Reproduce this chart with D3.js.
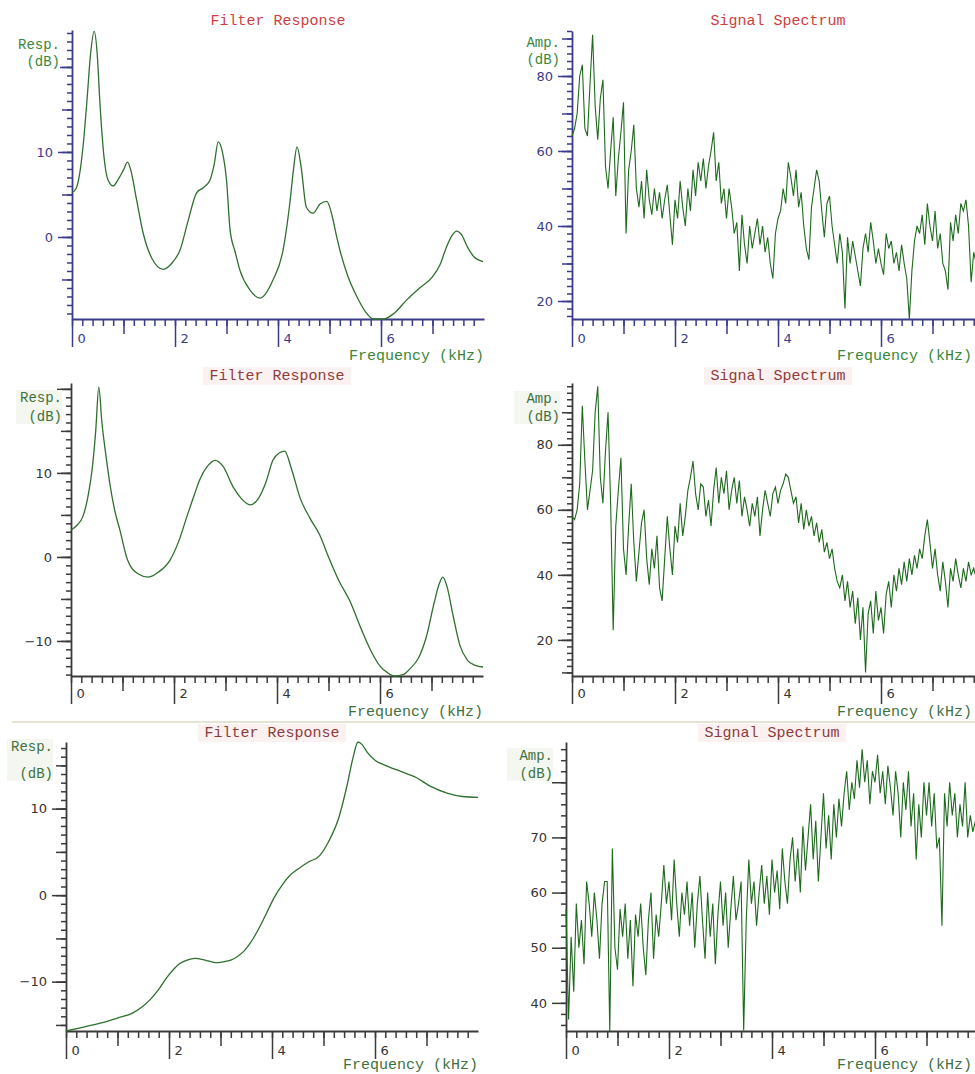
<!DOCTYPE html>
<html>
<head>
<meta charset="utf-8">
<style>
    body { margin: 0; background: #fff; overflow: hidden; }
    svg { display: block; }
    .mono { font-family: 'Liberation Mono', 'Courier New', monospace; }
    .tick text { font-family: 'DejaVu Sans', Verdana, sans-serif; font-size: 13px; }
</style>
</head>
<body>
<svg width="975" height="1074"></svg>

<script src="https://d3js.org/d3.v7.min.js"></script>
<script>
    // ---- data ----
    // filter responses (kHz, dB)
    const filt1Freq = [0, 0.08, 0.16, 0.22, 0.29, 0.36, 0.43, 0.49, 0.54, 0.62, 0.7, 0.8, 0.9, 1.0, 1.08, 1.14, 1.25, 1.38, 1.55, 1.77,
        1.95, 2.1, 2.25, 2.42, 2.55, 2.68, 2.76, 2.84, 2.92, 3.0, 3.07, 3.17, 3.26, 3.45, 3.65, 3.9, 4.1, 4.23, 4.3, 4.37,
        4.45, 4.55, 4.68, 4.82, 4.95, 5.05, 5.14, 5.2, 5.35, 5.53, 5.7, 5.85, 6.05, 6.25, 6.5, 6.75, 7.0, 7.15, 7.27, 7.38,
        7.47, 7.56, 7.68, 7.8, 7.98]
    const filt1Resp = [5.2, 5.7, 7.9, 11, 16, 21.5, 24.2, 21.5, 16, 9.5, 6.7, 6.0, 6.8, 7.9, 8.8, 7.9, 4.5, 0.5, -2.5, -3.8,
        -3.0, -1.5, 1.8, 5.2, 5.8, 6.7, 8.5, 11.2, 10.0, 6.7, 0.8, -1.8, -3.9, -6.2, -7.2, -5.1, -1.5, 4.0, 7.9, 10.6,
        8.2, 3.5, 2.8, 3.9, 4.2, 2.5, 0, -1.5, -4.5, -7, -8.8, -9.65, -9.65, -9.0, -7.4, -6.0, -4.7, -3.2, -1.2, 0.2,
        0.7, 0.3, -1.2, -2.3, -2.9]

    const filt2Freq = [0, 0.12, 0.23, 0.33, 0.41, 0.48, 0.54, 0.6, 0.68, 0.76, 0.85, 0.95, 1.1, 1.3, 1.5, 1.7, 1.92, 2.1, 2.25, 2.4,
        2.5, 2.65, 2.8, 2.95, 3.15, 3.3, 3.48, 3.62, 3.78, 3.92, 4.05, 4.15, 4.28, 4.45, 4.65, 4.83, 5.0, 5.2, 5.42, 5.65,
        5.85, 6.0, 6.15, 6.29, 6.45, 6.6, 6.75, 6.9, 7.05, 7.15, 7.22, 7.3, 7.42, 7.55, 7.7, 7.85, 8.0]
    const filt2Resp = [3.2, 3.8, 4.8, 7.2, 10.4, 15, 20.2, 16, 12, 8.5, 5.5, 3.2, -0.4, -2.0, -2.4, -1.8, -0.4, 2.0, 4.8, 7.5,
        9.2, 10.8, 11.5, 10.8, 8.3, 7.0, 6.2, 6.8, 8.8, 11.5, 12.4, 12.6, 10.5, 7.0, 4.5, 2.6, 0, -2.8, -5.3, -8.8,
        -11.5, -13.0, -13.8, -14.2, -14.0, -13.2, -12.0, -9.5, -5.5, -3.2, -2.4, -3.5, -7, -10.5, -12.3, -12.9, -13.1]

    const filt3Freq = [0, 0.3, 0.66, 1.0, 1.3, 1.5, 1.63, 1.8, 1.96, 2.1, 2.21, 2.35, 2.5, 2.7, 2.9, 3.05, 3.2, 3.3, 3.45, 3.57,
        3.75, 3.9, 4.05, 4.2, 4.35, 4.5, 4.7, 4.93, 5.1, 5.3, 5.45, 5.57, 5.67, 5.75, 5.85, 6.0, 6.2, 6.5, 6.8, 7.07,
        7.4, 7.7, 8.0]
    const filt3Resp = [-15.7, -15.3, -14.8, -14.2, -13.6, -12.8, -12.1, -10.9, -9.5, -8.5, -7.9, -7.5, -7.3, -7.5, -7.8, -7.7, -7.5, -7.2, -6.5, -5.6,
        -3.8, -2.0, -0.2, 1.2, 2.3, 3.0, 3.8, 4.6, 6.2, 9.0, 12.5, 15.8, 17.7, 17.4, 16.5, 15.6, 15.0, 14.3, 13.6, 12.6,
        11.8, 11.4, 11.3]

    // signal spectra, one value every 0.05 kHz from 0 to 8 kHz (dB)
    const specStep = 0.05
    const spec1Amp = [
        64, 66, 70, 80, 83, 66, 64, 78, 91, 72,
        63, 74, 79, 56, 50, 60, 69, 48, 58, 65,
        73, 38, 55, 60, 67, 50, 45, 52, 42, 55,
        47, 43, 50, 44, 49, 42, 47, 51, 43, 35,
        47, 42, 52, 45, 40, 50, 44, 55, 48, 57,
        52, 58, 50, 56, 60, 65, 52, 57, 46, 50,
        42, 50, 45, 38, 41, 28, 43, 35, 30, 40,
        34, 38, 42, 35, 40, 33, 37, 30, 26, 38,
        42, 44, 50, 46, 57, 53, 48, 55, 45, 49,
        40, 34, 31, 45, 50, 55, 52, 44, 37, 46,
        48, 40, 35, 30, 38, 33, 18, 37, 30, 36,
        32, 28, 24, 34, 38, 33, 41, 36, 30, 34,
        30, 27, 38, 34, 36, 30, 33, 28, 35, 30,
        26, 15, 28, 36, 40, 38, 43, 35, 46, 40,
        36, 44, 34, 38, 30, 28, 23, 41, 36, 43,
        38, 46, 44, 47, 40, 25, 33, 30, 38, 35,
        36]
    const spec2Amp = [
        58, 57, 60, 68, 92, 75, 60, 66, 72, 90,
        98, 70, 62, 78, 90, 62, 23, 55, 66, 76,
        48, 40, 55, 68, 50, 38, 47, 56, 60, 45,
        37, 48, 42, 52, 36, 32, 45, 58, 48, 40,
        55, 50, 62, 52, 58, 66, 70, 75, 65, 60,
        68, 67, 58, 63, 55, 66, 73, 62, 70, 65,
        72, 60, 66, 70, 62, 69, 58, 64, 60, 55,
        62, 58, 64, 52, 60, 66, 62, 58, 65, 67,
        62, 66, 68, 71, 70, 66, 62, 64, 56, 62,
        54, 60, 55, 58, 52, 56, 50, 54, 47, 50,
        45, 48, 42, 38, 36, 40, 32, 38, 30, 35,
        25, 33, 20, 30, 10, 28, 32, 22, 35, 26,
        30, 22, 34, 38, 30, 40, 35, 42, 37, 44,
        38, 45, 40, 46, 42, 48, 45, 52, 57, 50,
        42, 48, 40, 35, 44, 38, 30, 42, 38, 45,
        40, 36, 42, 38, 44, 40, 42, 39, 43, 40,
        41]
    const spec3Amp = [
        57, 37, 52, 42, 58, 50, 55, 47, 62, 58,
        52, 60, 55, 48, 58, 62, 62, 34, 68, 50,
        46, 57, 52, 58, 48, 55, 43, 56, 52, 58,
        50, 45, 55, 60, 48, 56, 52, 58, 65, 58,
        62, 55, 66, 58, 52, 60, 56, 62, 54, 60,
        50, 58, 63, 55, 48, 60, 52, 58, 47, 56,
        62, 54, 60, 50, 57, 63, 55, 58, 62, 35,
        55, 66, 58, 62, 54, 60, 65, 58, 63, 56,
        66, 60, 64, 57, 68, 62, 58, 66, 70, 62,
        68, 60, 72, 64, 70, 76, 66, 73, 62, 70,
        78, 68, 74, 66, 76, 70, 77, 72, 78, 82,
        75, 80, 77, 84, 79, 86, 80, 84, 76, 82,
        80, 85, 78, 82, 76, 83, 79, 74, 82, 78,
        70, 80, 75, 82, 72, 78, 66, 76, 70, 80,
        74, 80, 72, 78, 68, 70, 54, 78, 72, 80,
        74, 78, 70, 76, 72, 80, 70, 74, 71, 73,
        72]

    // x axis ticks (kHz)
    const xMajorTicks = [0, 2, 4, 6]
    const xMidTicks = [1, 3, 5, 7]
    const xMinorTicks = d3.range(0, 40).map(k => k / 5)

    const titles = ["Filter Response", "Signal Spectrum"]
    const yLabels = [["Resp.", "(dB)"], ["Amp.", "(dB)"]]
    const xLabel = "Frequency (kHz)"

    // ---- layout ----
    const svg = d3.select("svg")
    const plotW = 412
    const pageW = 975

    const styles = {
        crisp: { axis: "#3b3b8c", tickText: "#3b3b8c", title: "#cf3e3e", lab: "#3a873a", labBg: "#fff", titleBg: "#fff" },
        jpeg: { axis: "#3a3a3a", tickText: "#333", title: "#8e3b3b", lab: "#3f713f", labBg: "#f3f7ef", titleBg: "#fbf1f1" }
    }

    const panels = [
        { st: "crisp", ax: 72, top: 30, bottom: 319, yDomain: [-9.65, 24.35], yMinor: 1, yMed: 5, yMajor: 10,
          kind: 0, titleY: 25, labY: [49, 66], labDx: -12, freqY: 360, labelDy: 24,
          xs: filt1Freq, ys: filt1Resp },
        { st: "crisp", ax: 572, top: 31, bottom: 319, yDomain: [15.2, 92], yMinor: 2, yMed: 10, yMajor: 20,
          kind: 1, titleY: 25, labY: [47, 64], labDx: -12, freqY: 360, labelDy: 24,
          ys: spec1Amp },
        { st: "jpeg", ax: 71, top: 383, bottom: 676, yDomain: [-14.17, 20.7], yMinor: 1, yMed: 5, yMajor: 10,
          kind: 0, titleY: 380, labY: [402, 421], labDx: -9, freqY: 716, labelDy: 22,
          xs: filt2Freq, ys: filt2Resp },
        { st: "jpeg", ax: 572, top: 383, bottom: 676, yDomain: [8.9, 99], yMinor: 2, yMed: 10, yMajor: 20,
          kind: 1, titleY: 380, labY: [403, 421], labDx: -12, freqY: 716, labelDy: 22,
          ys: spec2Amp },
        { st: "jpeg", ax: 66, top: 742, bottom: 1031, yDomain: [-15.7, 17.7], yMinor: 1, yMed: 5, yMajor: 10,
          kind: 0, titleY: 737, labY: [751, 778], labDx: -13, freqY: 1069, labelDy: 24,
          xs: filt3Freq, ys: filt3Resp },
        { st: "jpeg", ax: 566, top: 742, bottom: 1031, yDomain: [34.9, 87.3], yMinor: 2, yMed: 0, yMajor: 10,
          kind: 1, titleY: 737, labY: [760, 778], labDx: -13, freqY: 1069, labelDy: 24,
          ys: spec3Amp }
    ]

    // thin separator between 2nd and 3rd rows
    svg.append("line")
        .attr("x1", 12).attr("x2", pageW).attr("y1", 722).attr("y2", 722)
        .style("stroke", "#e7e3d4").style("stroke-width", 2)

    function multiples(domain, step) {
        let lo = Math.ceil(domain[0] / step - 1e-9), hi = Math.floor(domain[1] / step + 1e-9)
        return d3.range(lo, hi + 1).map(k => +(k * step).toFixed(6))
    }

    function drawPanel(p) {
        let st = styles[p.st]
        let g = svg.append("g")
        let x = d3.scaleLinear().domain([0, 8]).range([p.ax, p.ax + plotW])
        let y = d3.scaleLinear().domain(p.yDomain).range([p.bottom, p.top]).clamp(true)

        // y axis: minor / mid / major ticks
        let ySets = [[p.yMinor, 5], [p.yMed, 10], [p.yMajor, 14]]
        ySets.forEach(([step, size], i) => {
            if (!step) return
            let a = g.append("g")
                .attr("transform", `translate(${p.ax},0)`)
                .call(d3.axisLeft(y).tickValues(multiples(p.yDomain, step))
                    .tickSize(size).tickSizeOuter(0).tickPadding(5)
                    .tickFormat(i == 2 ? d3.format("d") : ""))
            a.attr("font-family", null).attr("font-size", null).style("color", st.axis)
            a.selectAll("line").style("stroke-width", 1.5)
            a.selectAll("text").style("fill", st.tickText)
            if (i != 2) a.select(".domain").remove()
            else {
                a.select(".domain").style("stroke-width", 1.8)
                // labels that sit under the "(dB)" caption are hidden by it
                a.selectAll(".tick").filter(d => y(d) < p.labY[1] + 6).select("text").remove()
            }
        })

        // x axis
        let xSets = [[xMinorTicks, 7], [xMidTicks, 15], [xMajorTicks, 28]]
        xSets.forEach(([vals, size], i) => {
            let a = g.append("g")
                .attr("transform", `translate(0,${p.bottom})`)
                .call(d3.axisBottom(x).tickValues(vals).tickSize(size).tickSizeOuter(0)
                    .tickFormat(i == 2 ? d => d : ""))
            a.attr("font-family", null).attr("font-size", null).style("color", st.axis)
            a.selectAll("line").style("stroke-width", 1.5)
            a.selectAll("text")
                .attr("x", 5).attr("y", p.labelDy).attr("dy", null)
                .attr("text-anchor", "start").style("fill", st.tickText)
            if (i != 2) a.select(".domain").remove()
            else a.select(".domain").style("stroke-width", 1.8)
        })

        // curve
        let line = d3.line()
            .x((d, i) => x(p.kind == 0 ? p.xs[i] : i * specStep))
            .y(d => y(d))
            .curve(p.kind == 0 ? d3.curveMonotoneX : d3.curveLinear)

        g.append("path")
            .datum(p.ys)
            .attr("d", line)
            .style("fill", "none")
            .style("stroke", p.kind == 0 ? "#2f6f2f" : "#1d6a1d")
            .style("stroke-width", p.kind == 0 ? 1.3 : 1.1)

        // title
        let tx = p.ax + plotW / 2
        if (p.st == "jpeg") {
            g.append("rect").attr("x", tx - 74).attr("y", p.titleY - 13).attr("width", 148).attr("height", 18)
                .style("fill", st.titleBg)
        }
        g.append("text").attr("class", "mono")
            .attr("x", tx).attr("y", p.titleY)
            .attr("text-anchor", "middle")
            .style("font-size", "15px").style("fill", st.title)
            .text(titles[p.kind])

        // y label on a small box
        let lx = p.ax + p.labDx
        g.append("rect").attr("x", lx - 46).attr("y", p.labY[0] - 12)
            .attr("width", 46).attr("height", p.labY[1] - p.labY[0] + 15)
            .style("fill", st.labBg)
        yLabels[p.kind].forEach((t, i) => {
            g.append("text").attr("class", "mono")
                .attr("x", lx).attr("y", p.labY[i])
                .attr("text-anchor", "end")
                .style("font-size", "14px").style("fill", st.lab)
                .text(t)
        })

        // x label, kept inside the page for the right-hand panels
        g.append("text").attr("class", "mono")
            .attr("x", Math.min(p.ax + plotW, pageW - 3)).attr("y", p.freqY)
            .attr("text-anchor", "end")
            .style("font-size", "15px").style("fill", st.lab)
            .text(xLabel)
    }

    panels.forEach(drawPanel)
</script>
</body>
</html>
